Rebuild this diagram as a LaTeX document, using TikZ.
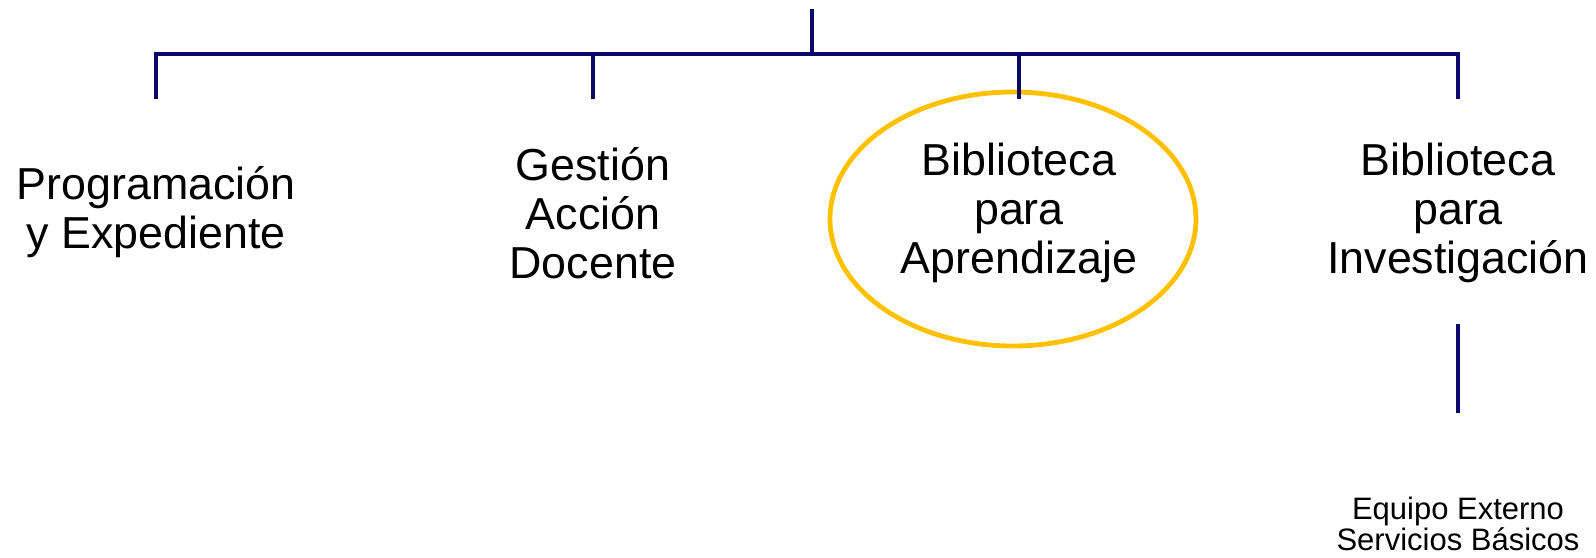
\documentclass[tikz,border=0pt]{standalone}
\usepackage{fontspec}
\setmainfont{Liberation Sans}
\definecolor{navy}{RGB}{10,10,105}
\definecolor{gold}{RGB}{255,192,0}
\tikzset{
  bus/.style={draw=navy,line width=2.3pt},
  lbl/.style={align=center,inner sep=0pt,font=\fontsize{22.4}{24.5}\selectfont},
  small/.style={align=center,inner sep=0pt,font=\fontsize{15.5}{15.5}\selectfont},
  ring/.style={draw=gold,line width=2.4pt}
}
\begin{document}
\begin{tikzpicture}[x=0.5pt,y=-0.5pt]
\useasboundingbox (0,0) rectangle (1596,557);
% coordinates
\coordinate (root) at (812,9);
\coordinate (jn) at (812,54);
\coordinate (b1) at (156,54);
\coordinate (b2) at (593,54);
\coordinate (b3) at (1019,54);
\coordinate (b4) at (1458,54);
\coordinate (d1) at (156,99);
\coordinate (d2) at (593,99);
\coordinate (d3) at (1019,99);
\coordinate (d4) at (1458,99);
\coordinate (s1) at (1458,324);
\coordinate (s2) at (1458,413);
% nodes
\node[lbl] (prog) at (156,212) {Programación\\y Expediente};
\node[lbl] (gest) at (593,213) {Gestión\\Acción\\Docente};
\node[lbl] (bapr) at (1019,213) {Biblioteca\\para\\Aprendizaje};
\node[lbl] (binv) at (1458,213) {Biblioteca\\para\\Investigación};
\node[small] (equipo) at (1458,524) {Equipo Externo\\Servicios Básicos};
\draw[ring] (1013,219) ellipse [x radius=183, y radius=127];
% connectors
\draw[bus] (root) -- (jn);
\draw[bus,line join=miter] (d1) -- (b1) -- (b4) -- (d4);
\draw[bus] (b2) -- (d2);
\draw[bus] (b3) -- (d3);
\draw[bus] (s1) -- (s2);
\end{tikzpicture}
\end{document}
